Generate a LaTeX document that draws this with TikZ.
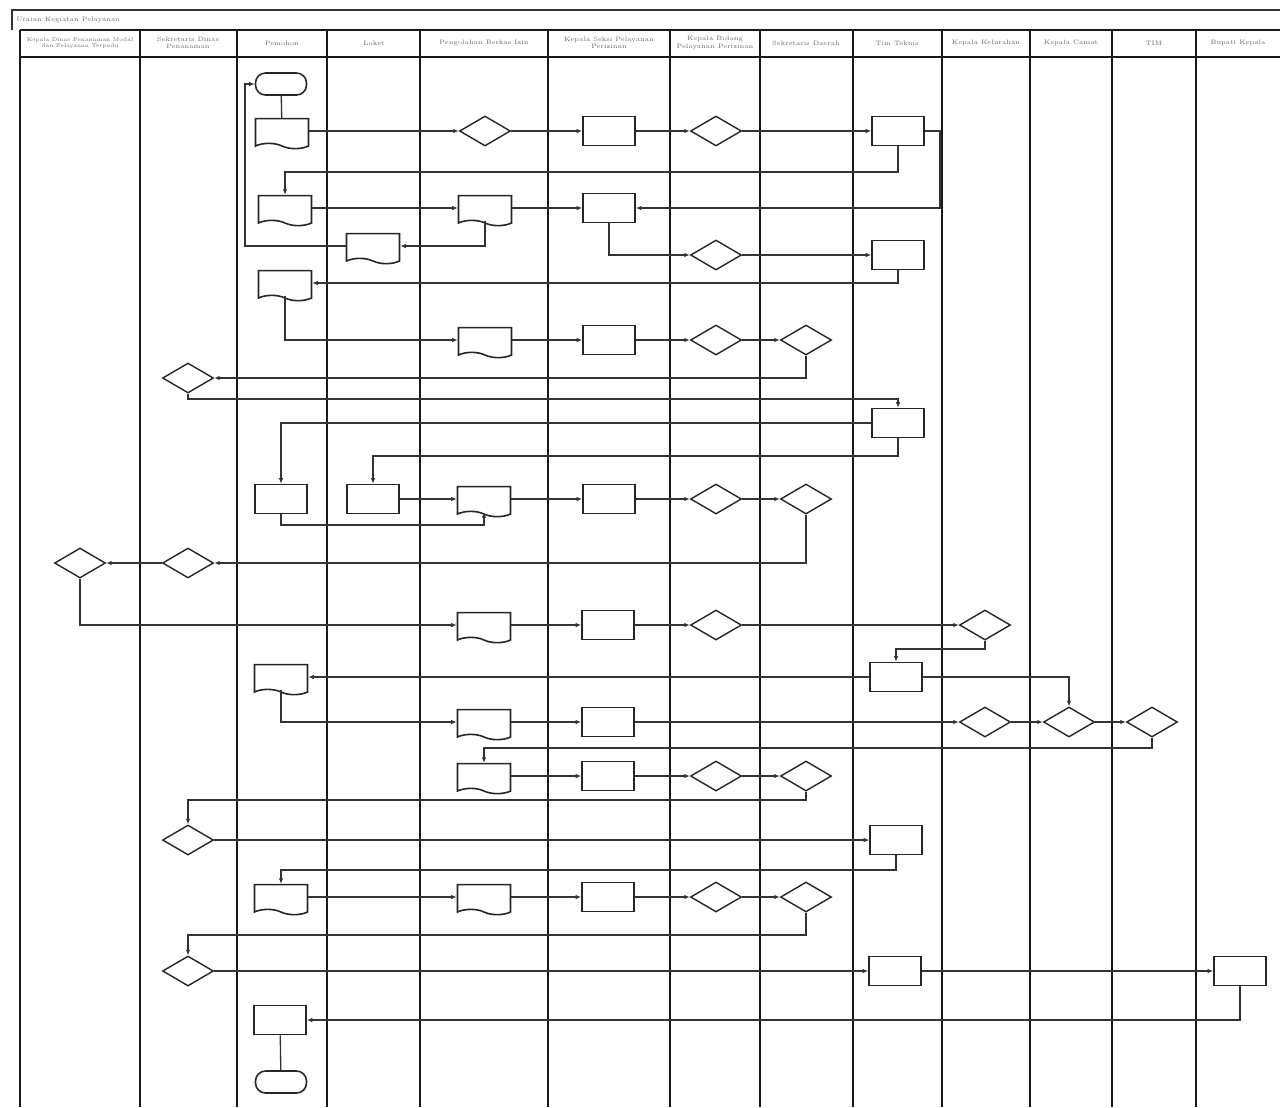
\documentclass[tikz,border=0pt]{standalone}
\usepackage{tikz}
\usetikzlibrary{arrows.meta,shapes.geometric,shapes.symbols,calc}
\tikzset{
  procbox/.style={rectangle, draw=black!85, line width=0.9pt, fill=white, minimum width=1.04cm, minimum height=0.58cm, inner sep=0pt},
  docbox/.style={tape, tape bend top=none, tape bend bottom=out and in, tape bend height=3pt, draw=black!85, line width=0.9pt, fill=white, minimum width=1.06cm, minimum height=0.6cm, inner sep=0pt},
  decis/.style={diamond, draw=black!85, line width=0.8pt, fill=white, minimum width=1.02cm, minimum height=0.6cm, inner sep=0pt},
  termbox/.style={rectangle, rounded corners=0.2cm, draw=black!85, line width=0.9pt, fill=white, minimum width=1.02cm, minimum height=0.44cm, inner sep=0pt},
  flow/.style={draw=black!80, line width=0.75pt, -{Latex[length=1.1mm,width=0.9mm]}},
  link/.style={draw=black!80, line width=0.75pt},
  lane/.style={draw=black!90, line width=1.3pt},
  head/.style={font=\fontsize{3.6}{4.2}\selectfont, text=black!60, align=center, inner sep=0pt}
}

\begin{document}
\begin{tikzpicture}[x=0.02cm, y=-0.02cm]
  \useasboundingbox (0,0) rectangle (1280,1107);

  % frame and lanes
  \draw[link] (12,30) -- (12,10) -- (1280,10);
  \node[head, anchor=west] (title) at (16,20) {Uraian Kegiatan Pelayanan};
  \draw[lane] (20,30) -- (1280,30);
  \draw[lane] (20,57) -- (1280,57);
  \foreach \lx in {20,140,237,327,420,548,670,760,853,942,1030,1112,1196}
    \draw[lane] (\lx,30) -- (\lx,1107);

  \node[head, font=\fontsize{3.1}{3.8}\selectfont] (h1) at (80,43) {Kepala Dinas Penanaman Modal\\dan Pelayanan Terpadu};
  \node[head] (h2) at (188,43) {Sekretaris Dinas\\Penanaman};
  \node[head] (h3) at (282,43) {Pemohon};
  \node[head] (h4) at (374,43) {Loket};
  \node[head] (h5) at (484,43) {Pengolahan Berkas Izin};
  \node[head] (h6) at (609,43) {Kepala Seksi Pelayanan\\Perizinan};
  \node[head] (h7) at (715,43) {Kepala Bidang\\Pelayanan Perizinan};
  \node[head] (h8) at (806,43) {Sekretaris Daerah};
  \node[head] (h9) at (897,43) {Tim Teknis};
  \node[head] (h10) at (986,43) {Kepala Kelurahan};
  \node[head] (h11) at (1071,43) {Kepala Camat};
  \node[head] (h12) at (1154,43) {TIM};
  \node[head] (h13) at (1238,43) {Bupati Kepala};

  % lane 3
  \node[termbox] (st) at (281,84) {};
  \node[docbox] (dA) at (282,131) {};
  \node[docbox] (dB) at (285,208) {};
  \node[docbox] (dC) at (285,283) {};
  \node[procbox] (pA) at (281,499) {};
  \node[docbox] (dD) at (281,677) {};
  \node[docbox] (dE) at (281,897) {};
  \node[procbox] (pB) at (280,1020) {};
  \node[termbox] (en) at (281,1082) {};
  % lane 4
  \node[docbox] (dF) at (373,246) {};
  \node[procbox] (pC) at (373,499) {};
  % lane 5
  \node[decis] (k1) at (485,131) {};
  \node[docbox] (dG) at (485,208) {};
  \node[docbox] (dH) at (485,340) {};
  \node[docbox] (dI) at (484,499) {};
  \node[docbox] (dJ) at (484,625) {};
  \node[docbox] (dK) at (484,722) {};
  \node[docbox] (dL) at (484,776) {};
  \node[docbox] (dM) at (484,897) {};
  % lane 6
  \node[procbox] (r1) at (609,131) {};
  \node[procbox] (r2) at (609,208) {};
  \node[procbox] (r3) at (609,340) {};
  \node[procbox] (r4) at (609,499) {};
  \node[procbox] (r5) at (608,625) {};
  \node[procbox] (r6) at (608,722) {};
  \node[procbox] (r7) at (608,776) {};
  \node[procbox] (r8) at (608,897) {};
  % lane 7
  \node[decis] (k7a) at (716,131) {};
  \node[decis] (k7b) at (716,255) {};
  \node[decis] (k7c) at (716,340) {};
  \node[decis] (k7d) at (716,499) {};
  \node[decis] (k7e) at (716,625) {};
  \node[decis] (k7g) at (716,776) {};
  \node[decis] (k7h) at (716,897) {};
  % lane 8
  \node[decis] (k8c) at (806,340) {};
  \node[decis] (k8d) at (806,499) {};
  \node[decis] (k8g) at (806,776) {};
  \node[decis] (k8h) at (806,897) {};
  % lane 9
  \node[procbox] (q1) at (898,131) {};
  \node[procbox] (q2) at (898,255) {};
  \node[procbox] (q3) at (898,423) {};
  \node[procbox] (q4) at (896,677) {};
  \node[procbox] (q5) at (896,840) {};
  \node[procbox] (q6) at (895,971) {};
  % lanes 10 to 13
  \node[decis] (k10a) at (985,625) {};
  \node[decis] (k10b) at (985,722) {};
  \node[decis] (k11) at (1069,722) {};
  \node[decis] (k12) at (1152,722) {};
  \node[procbox] (q7) at (1240,971) {};
  % lanes 1 and 2
  \node[decis] (k2a) at (188,378) {};
  \node[decis] (k2b) at (188,563) {};
  \node[decis] (k2c) at (188,840) {};
  \node[decis] (k2d) at (188,971) {};
  \node[decis] (k1a) at (80,563) {};

  % turning points
  \coordinate (xl) at (245,0);
  \coordinate (xr) at (940,0);
  \coordinate (y172) at (0,172);
  \coordinate (y399) at (0,399);
  \coordinate (y456) at (0,456);
  \coordinate (y525) at (0,525);
  \coordinate (y649) at (0,649);
  \coordinate (y748) at (0,748);
  \coordinate (y800) at (0,800);
  \coordinate (y870) at (0,870);
  \coordinate (y935) at (0,935);

  % connectors
  \draw[link] (st) -- (dA);
  \draw[flow] (dA) -- (k1);
  \draw[flow] (k1) -- (r1);
  \draw[flow] (r1) -- (k7a);
  \draw[flow] (k7a) -- (q1);
  \draw[flow] (q1.east) -- (q1.east -| xr) |- (r2.east);
  \draw[flow] (q1.south) -- (q1.south |- y172) -| (dB.north);
  \draw[flow] (dB) -- (dG);
  \draw[flow] (dG) -- (r2);
  \draw[flow] (r2.south) |- (k7b.west);
  \draw[flow] (k7b) -- (q2);
  \draw[flow] (dG.south) |- (dF.east);
  \draw[flow] (dF.west) -- (dF.west -| xl) |- (st.west);
  \draw[flow] (q2.south) |- (dC.east);
  \draw[flow] (dC.south) |- (dH.west);
  \draw[flow] (dH) -- (r3);
  \draw[flow] (r3) -- (k7c);
  \draw[flow] (k7c) -- (k8c);
  \draw[flow] (k8c.south) |- (k2a.east);
  \draw[flow] (k2a.south) -- (k2a.south |- y399) -| (q3.north);
  \draw[flow] (q3.west) -| (pA.north);
  \draw[flow] (q3.south) -- (q3.south |- y456) -| (pC.north);
  \draw[flow] (pC) -- (dI);
  \draw[flow] (pA.south) -- (pA.south |- y525) -| (dI.south);
  \draw[flow] (dI) -- (r4);
  \draw[flow] (r4) -- (k7d);
  \draw[flow] (k7d) -- (k8d);
  \draw[flow] (k8d.south) |- (k2b.east);
  \draw[flow] (k2b) -- (k1a);
  \draw[flow] (k1a.south) |- (dJ.west);
  \draw[flow] (dJ) -- (r5);
  \draw[flow] (r5) -- (k7e);
  \draw[flow] (k7e) -- (k10a);
  \draw[flow] (k10a.south) -- (k10a.south |- y649) -| (q4.north);
  \draw[flow] (q4.west) -- (dD.east);
  \draw[flow] (q4.east) -| (k11.north);
  \draw[flow] (dD.south) |- (dK.west);
  \draw[flow] (dK) -- (r6);
  \draw[flow] (r6) -- (k10b);
  \draw[flow] (k10b) -- (k11);
  \draw[flow] (k11) -- (k12);
  \draw[flow] (k12.south) -- (k12.south |- y748) -| (dL.north);
  \draw[flow] (dL) -- (r7);
  \draw[flow] (r7) -- (k7g);
  \draw[flow] (k7g) -- (k8g);
  \draw[flow] (k8g.south) -- (k8g.south |- y800) -| (k2c.north);
  \draw[flow] (k2c) -- (q5);
  \draw[flow] (q5.south) -- (q5.south |- y870) -| (dE.north);
  \draw[flow] (dE) -- (dM);
  \draw[flow] (dM) -- (r8);
  \draw[flow] (r8) -- (k7h);
  \draw[flow] (k7h) -- (k8h);
  \draw[flow] (k8h.south) -- (k8h.south |- y935) -| (k2d.north);
  \draw[flow] (k2d) -- (q6);
  \draw[flow] (q6) -- (q7);
  \draw[flow] (q7.south) |- (pB.east);
  \draw[link] (pB) -- (en);
\end{tikzpicture}
\end{document}
